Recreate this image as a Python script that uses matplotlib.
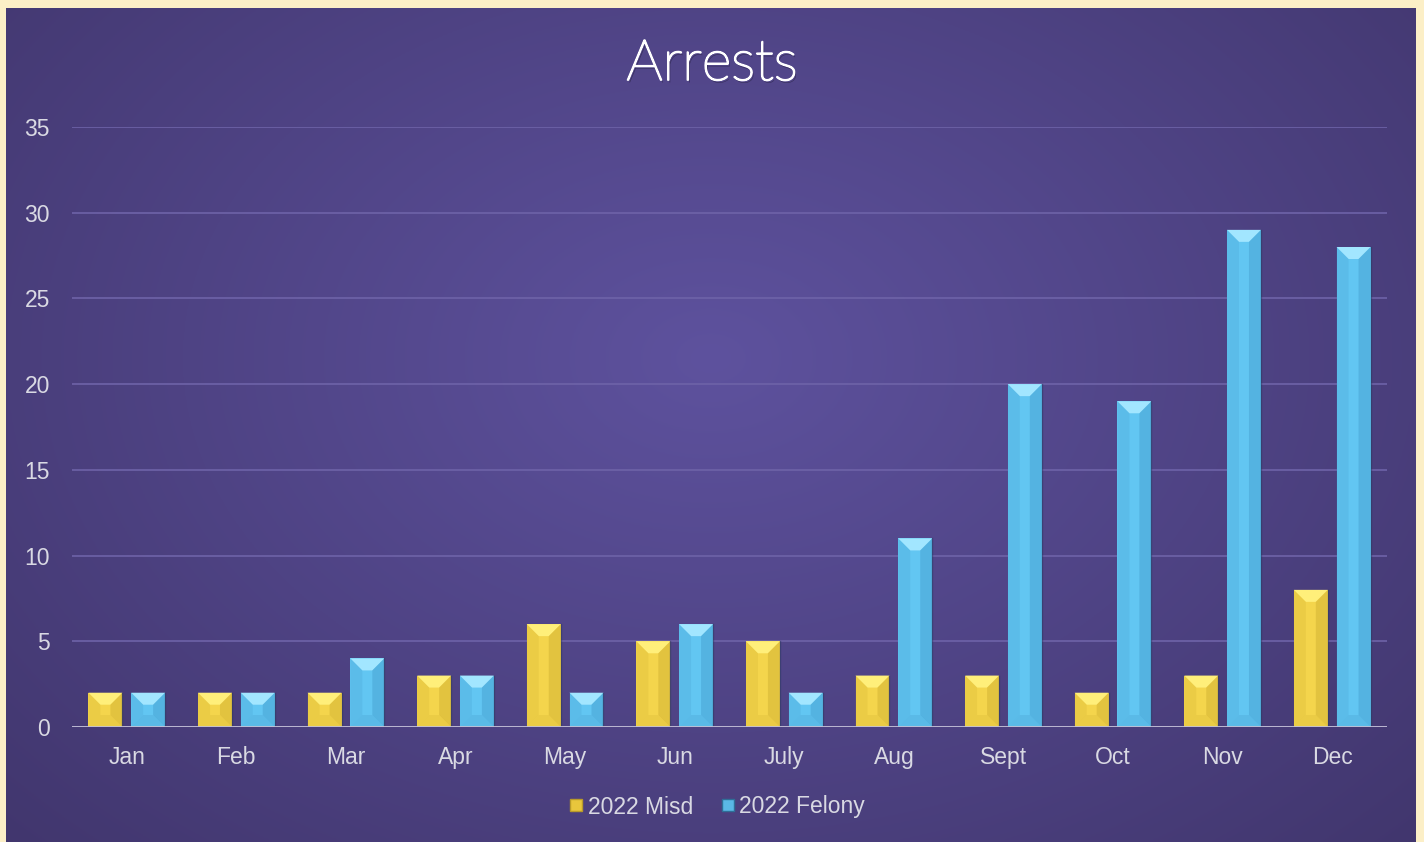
import matplotlib.pyplot as plt
import matplotlib.patheffects as pe
from matplotlib.patches import Polygon
from matplotlib.lines import Line2D
import numpy as np

# dados
meses = ["Jan", "Feb", "Mar", "Apr", "May", "Jun", "July", "Aug", "Sept", "Oct", "Nov", "Dec"]
misd = [2, 2, 2, 3, 6, 5, 5, 3, 3, 2, 3, 8]
felony = [2, 2, 4, 3, 2, 6, 2, 11, 20, 19, 29, 28]
series_names = ["2022 Misd", "2022 Felony"]

W, H = 1424, 842
fig = plt.figure(figsize=(W / 100, H / 100), dpi=100)
fig.patch.set_facecolor("#FCEFC7")

# fundo roxo com gradiente radial
bg = fig.add_axes([6 / W, 0, 1410 / W, 834 / H])
yy, xx = np.mgrid[0:1:400j, 0:1:700j]
r = np.sqrt(((xx - 0.5) / 0.75) ** 2 + ((yy - 0.42) / 0.9) ** 2)
r = np.clip(r, 0, 1)
c_in = np.array([0x5E, 0x52, 0x9E]) / 255
c_out = np.array([0x3F, 0x34, 0x6A]) / 255
img = c_in[None, None, :] * (1 - r[..., None]) + c_out[None, None, :] * r[..., None]
bg.imshow(img, aspect="auto", extent=[0, 1, 0, 1], origin="upper")
bg.set_axis_off()

ax = fig.add_axes([72 / W, 1 - 727 / H, (1387 - 72) / W, (727 - 127) / H])
ax.set_facecolor("none")
ax.set_xlim(-0.5, 11.5)
ax.set_ylim(0, 35)

x = np.arange(len(meses))
width = 0.31
off = 0.195

# px por unidade
px_x = (1387 - 72) / 12
px_y = (727 - 127) / 35
bev = 12
dx = bev / px_x
dy = bev / px_y


def bevel_bar(xc, h, base, top, side, bottom):
    x0, x1 = xc - width / 2, xc + width / 2
    d_y = min(dy, h / 2)
    ax.bar(xc, h, width, color=base, zorder=3, linewidth=0)
    ax.add_patch(Polygon([(x0, h), (x1, h), (x1 - dx, h - d_y), (x0 + dx, h - d_y)],
                         closed=True, color=top, lw=0, zorder=4))
    ax.add_patch(Polygon([(x0, 0), (x0, h), (x0 + dx, h - d_y), (x0 + dx, d_y)],
                         closed=True, color=side, lw=0, zorder=4, alpha=0.2))
    ax.add_patch(Polygon([(x1, 0), (x1, h), (x1 - dx, h - d_y), (x1 - dx, d_y)],
                         closed=True, color=side, lw=0, zorder=4, alpha=0.4))
    ax.add_patch(Polygon([(x0, 0), (x1, 0), (x1 - dx, d_y), (x0 + dx, d_y)],
                         closed=True, color=bottom, lw=0, zorder=4, alpha=0.3))
    ax.plot([x1, x1], [0, h], color="#2A3A60", lw=1, alpha=0.5, zorder=4)


for i in range(len(meses)):
    bevel_bar(x[i] - off, misd[i], "#F4D54C", "#FFEF7A", "#C9A82C", "#D8B838")
    bevel_bar(x[i] + off, felony[i], "#62C6F2", "#A2E6FF", "#3F97C8", "#4A9FCF")

ax.set_yticks(range(0, 36, 5))
ax.grid(axis="y", color="#6E63A8", lw=1.2, zorder=0)
ax.set_axisbelow(True)
ax.axhline(0, color="#C4C0D6", lw=2, zorder=5)
for s in ax.spines.values():
    s.set_visible(False)
ax.set_xticks(x)
ax.set_xticklabels(meses, family="Liberation Sans")
ax.set_yticklabels([str(v) for v in range(0, 36, 5)], family="Liberation Sans")
ax.tick_params(length=0, labelsize=16.5, labelcolor="#D9D9E3")
ax.tick_params(axis="x", pad=14)
ax.tick_params(axis="y", pad=16)

fig.text(0.5, 1 - 64 / H, "Arrests", ha="center", va="center", fontsize=41,
         family="Lato", weight="light", color="white",
         path_effects=[pe.withSimplePatchShadow(offset=(1.2, -1.8), shadow_rgbFace="black", alpha=0.35),
                       pe.withStroke(linewidth=1.3, foreground="white")])

handles = [Line2D([], [], marker="s", ls="", markersize=9, markerfacecolor="#E8C63C", markeredgecolor="#B89A2A"),
           Line2D([], [], marker="s", ls="", markersize=9, markerfacecolor="#5AB8E6", markeredgecolor="#2F6F98")]
fig.legend(handles, series_names, loc="center", bbox_to_anchor=(0.502, 1 - 807 / H), ncol=2,
           frameon=False, prop={"family": "Liberation Sans", "size": 16.5}, labelcolor="#D9D9E3",
           handletextpad=0.0, columnspacing=1.0, handlelength=1.0)

plt.savefig("out.png", dpi=100, facecolor=fig.get_facecolor())
